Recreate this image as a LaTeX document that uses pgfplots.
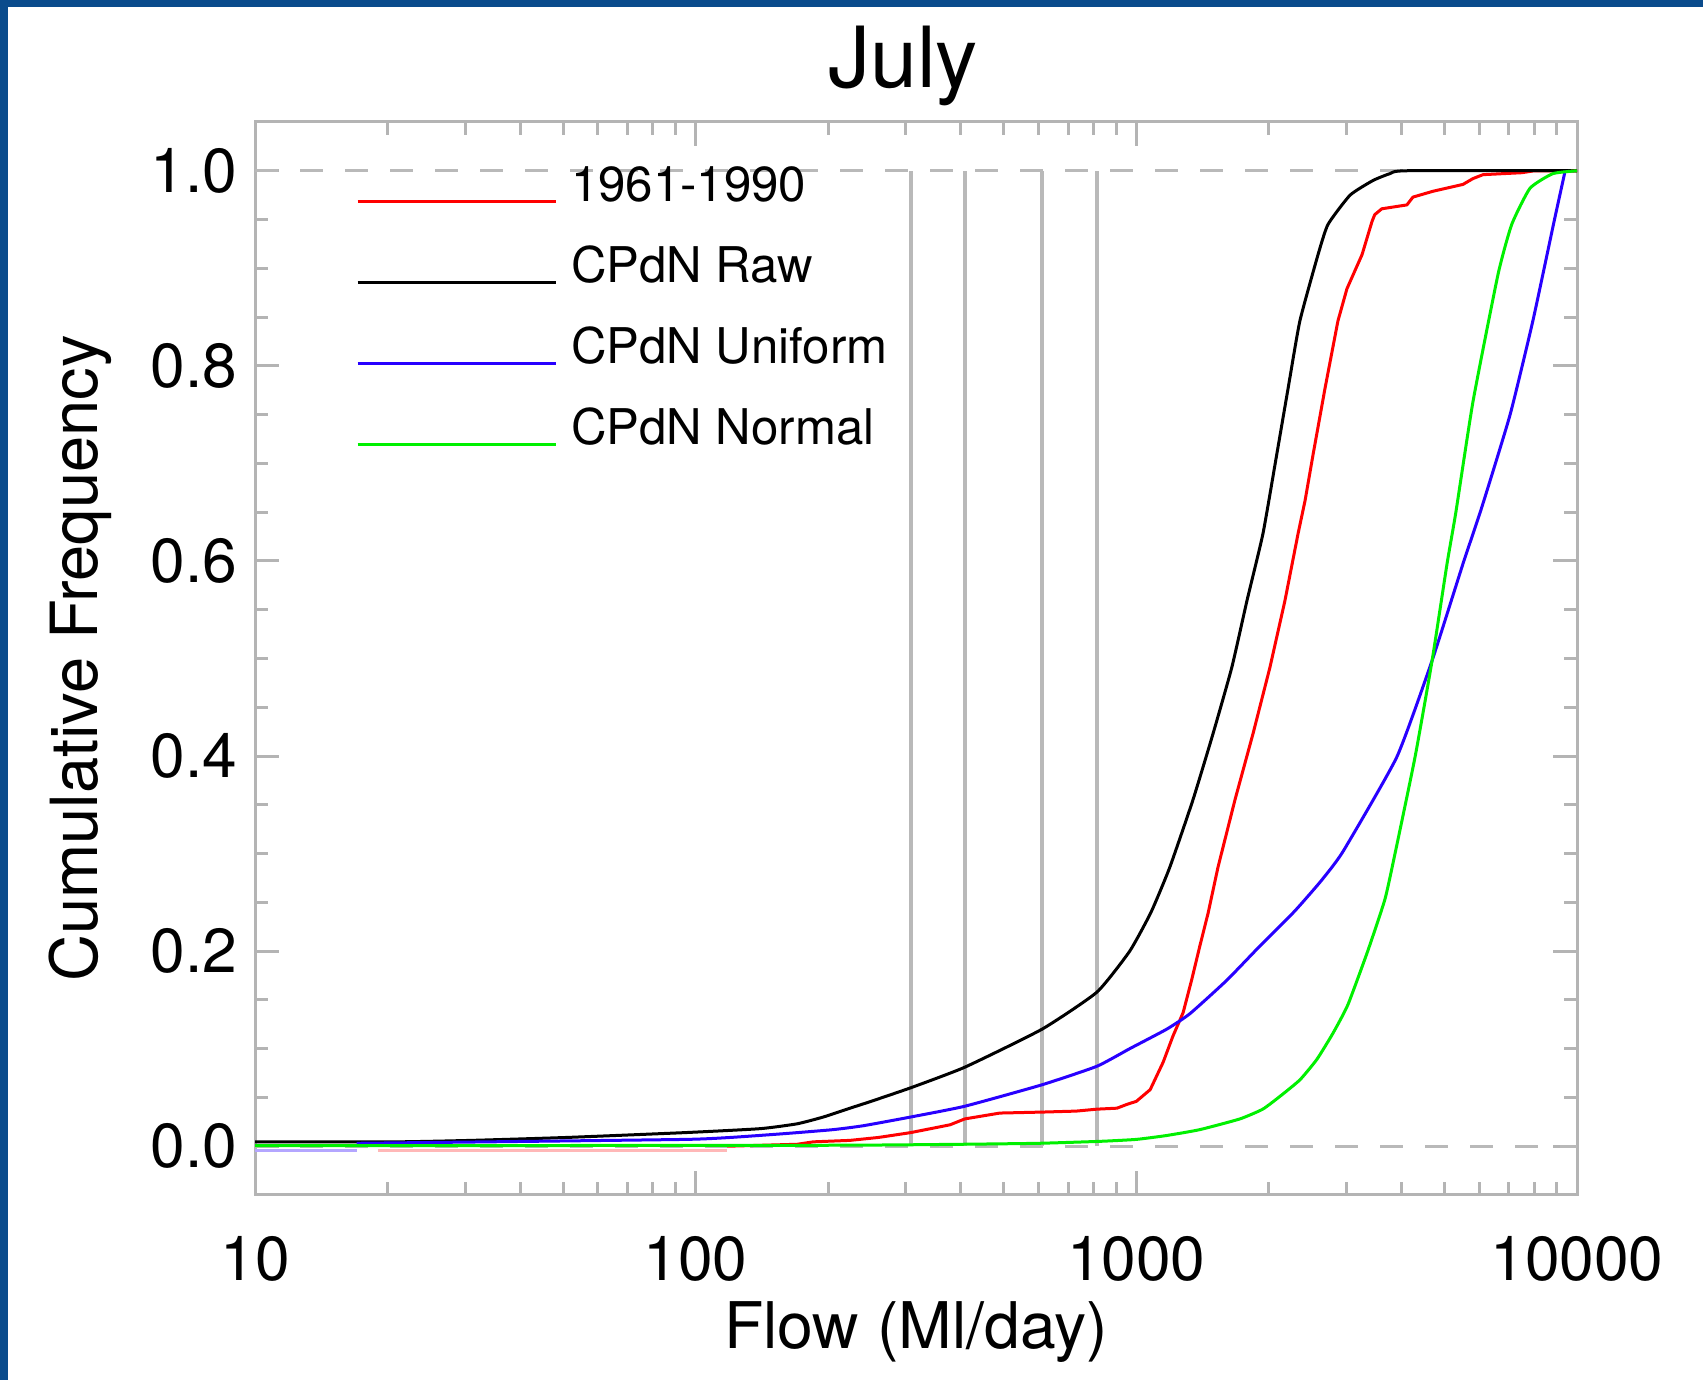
\documentclass[border=0pt]{standalone}
\usepackage{pgfplots}
\pgfplotsset{compat=1.18}
\usepackage{fontspec}
\setmainfont{TeX Gyre Heros}
\definecolor{borderblue}{RGB}{10,75,140}
\definecolor{axgray}{RGB}{180,180,180}
\definecolor{refgray}{RGB}{185,185,185}
\definecolor{cred}{RGB}{255,0,0}
\definecolor{cblue}{RGB}{40,0,255}
\definecolor{cgreen}{RGB}{0,240,0}
\begin{document}
\begin{tikzpicture}
\fill[white] (0,0) rectangle (170.3mm,138mm);
\fill[borderblue] (0,137.3mm) rectangle (170.3mm,138mm);
\fill[borderblue] (0,0) rectangle (0.8mm,138mm);
\useasboundingbox (0,0) rectangle (170.3mm,138mm);
\begin{axis}[
  at={(25.5mm,18.5mm)}, anchor=south west,
  scale only axis, width=132.2mm, height=107.3mm,
  xmode=log, xmin=10, xmax=10000, ymin=-0.05, ymax=1.05,
  xtick={10,100,1000,10000}, xticklabels={10,100,1000,10000},
  minor xtick={20,30,40,50,60,70,80,90,200,300,400,500,600,700,800,900,2000,3000,4000,5000,6000,7000,8000,9000},
  ytick={0,0.2,0.4,0.6,0.8,1.0}, minor y tick num=3,
  /pgf/number format/assume math mode=true,
  yticklabel style={/pgf/number format/fixed, /pgf/number format/fixed zerofill, /pgf/number format/precision=1,
    anchor=east, inner sep=0pt, xshift=-1.7mm, font=\fontsize{17.7}{20}\selectfont},
  tick align=inside, major tick length=2.4mm, minor tick length=1.3mm,
  every tick/.style={axgray, line width=0.3mm},
  axis line style={axgray, line width=0.3mm},
  xticklabel style={anchor=base, inner sep=0pt, yshift=-8.5mm, font=\fontsize{17.7}{20}\selectfont},
  xlabel={Flow (Ml/day)},
  xlabel style={at={(axis description cs:0.5,0)}, anchor=base, yshift=-15.3mm, inner sep=0pt, font=\fontsize{18.3}{22}\selectfont},
  ylabel={Cumulative Frequency},
  ylabel style={at={(axis description cs:-0.1195,0.5)}, anchor=base, inner sep=0pt, font=\fontsize{18.5}{22}\selectfont},
  title={July},
  every axis title shift=0pt,
  title style={at={(axis description cs:0.49,1)}, anchor=base, yshift=3.4mm, inner sep=0pt, font=\fontsize{24}{28}\selectfont},
  legend cell align=left,
  legend style={at={(axis description cs:0.0764,0.9273)}, anchor=north west, draw=none, fill=none,
    inner sep=0pt, outer sep=0pt, row sep=7.73mm, column sep=1.4mm,
    nodes={inner sep=0pt, text height=0pt, text depth=0pt},
    cells={anchor=base west},
    font=\fontsize{14}{16}\selectfont},
  legend image code/.code={\draw[#1, line width=0.3mm] (0mm,0mm) -- (19.8mm,0mm);},
  every axis plot/.append style={line width=0.3mm, line join=round},
]
% reference lines
\addplot[refgray, line width=0.35mm, forget plot] coordinates {(308,0) (308,1)};
\addplot[refgray, line width=0.35mm, forget plot] coordinates {(408,0) (408,1)};
\addplot[refgray, line width=0.35mm, forget plot] coordinates {(611,0) (611,1)};
\addplot[refgray, line width=0.35mm, forget plot] coordinates {(814,0) (814,1)};
\addplot[refgray, line width=0.3mm, dash pattern=on 2.3mm off 2.2mm, forget plot] coordinates {(10,0) (10000,0)};
\addplot[refgray, line width=0.3mm, dash pattern=on 2.3mm off 2.2mm, forget plot] coordinates {(10,1) (10000,1)};
% pale segments near zero
\addplot[cred!28, forget plot] coordinates {(19,-0.004) (118,-0.004)};
\addplot[cblue!35, forget plot] coordinates {(10,-0.004) (17,-0.004)};
% 1961-1990
\addplot[cred] coordinates {
(118,0.000) (170,0.002) (185,0.0045) (224,0.006) (260,0.009) (308,0.014) (378,0.022) (408,0.028)
(490,0.034) (611,0.035) (730,0.036) (814,0.038) (904,0.039) (953,0.043) (1000,0.046) (1075,0.058)
(1150,0.086) (1211,0.113) (1277,0.137) (1336,0.171) (1393,0.205) (1455,0.239) (1532,0.286)
(1674,0.355) (1840,0.423) (2010,0.491) (2173,0.559) (2328,0.628) (2415,0.662) (2520,0.710)
(2680,0.777) (2867,0.846) (3005,0.879) (3252,0.914) (3426,0.948) (3475,0.955) (3605,0.961)
(4111,0.965) (4243,0.973) (4713,0.979) (5510,0.986) (5807,0.992) (6120,0.996) (7500,0.998)
(8000,1.0) (10000,1.0)};
\addlegendentry{1961-1990}
% CPdN Raw
\addplot[black, smooth, tension=0.3] coordinates {
(10,0.0045) (21,0.0045) (31,0.006) (51,0.009) (95,0.014) (140,0.018) (170,0.023) (195,0.030)
(224,0.039) (250,0.046) (308,0.060) (408,0.081) (611,0.120) (814,0.158) (966,0.200)
(1080,0.240) (1191,0.286) (1344,0.355) (1493,0.423) (1647,0.491) (1782,0.559) (1938,0.628)
(2075,0.705) (2210,0.777) (2350,0.846) (2584,0.914) (2722,0.945) (3055,0.975) (3443,0.990)
(3760,0.997) (4100,1.0) (10000,1.0)};
\addlegendentry{CPdN Raw}
% CPdN Uniform
\addplot[cblue, smooth, tension=0.3] coordinates {
(17,0.003) (34,0.0045) (95,0.007) (120,0.009) (160,0.013) (205,0.017) (240,0.021) (308,0.030)
(408,0.041) (611,0.063) (814,0.082) (966,0.100) (1172,0.120) (1324,0.136) (1603,0.170)
(1905,0.205) (2265,0.239) (2437,0.255) (2636,0.273) (2943,0.302) (3900,0.399) (4690,0.498)
(5510,0.597) (6080,0.655) (7050,0.750) (7940,0.846) (8870,0.948) (9400,1.0)};
\addlegendentry{CPdN Uniform}
% CPdN Normal
\addplot[cgreen, smooth, tension=0.3] coordinates {
(10,0.0005) (200,0.001) (400,0.002) (600,0.003) (826,0.005) (1000,0.007) (1172,0.011)
(1393,0.017) (1718,0.028) (1936,0.038) (2116,0.051) (2350,0.068) (2568,0.089) (2795,0.116)
(3020,0.145) (3350,0.200) (3665,0.253) (3860,0.299) (4290,0.399) (4690,0.498) (5070,0.597)
(5310,0.650) (5810,0.764) (6620,0.894) (7110,0.945) (7820,0.982) (8810,0.997) (10000,1.0)};
\addlegendentry{CPdN Normal}
\end{axis}
\end{tikzpicture}
\end{document}
